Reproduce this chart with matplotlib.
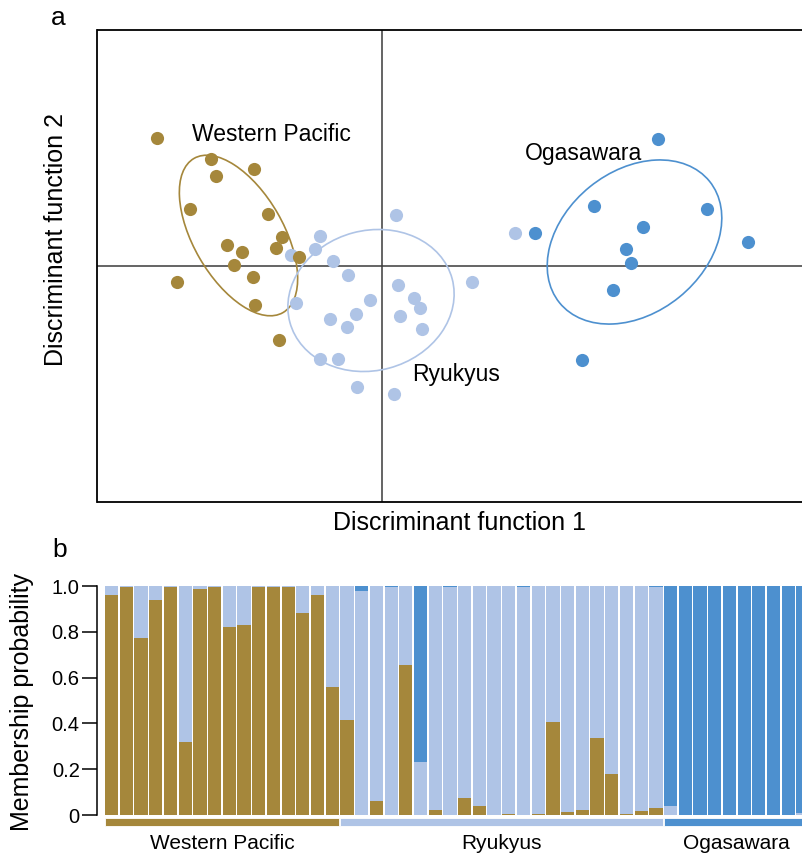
import matplotlib
matplotlib.use('Agg')
import matplotlib.pyplot as plt
from matplotlib.patches import Ellipse, Rectangle
import numpy as np

plt.rcParams['font.family'] = ['Liberation Sans', 'DejaVu Sans']

BROWN = '#a5873b'
LIGHT = '#afc4e6'
DARK = '#4d90cf'

# panel a: discriminant scores (function 1, function 2)
wp_ld1 = [-4.51, -3.41, -2.57, -3.33, -3.84, -2.29, -2.00, -3.10, -2.79, -2.13, -1.66, -2.95, -4.10, -2.59, -2.55, -2.06]
wp_ld2 = [2.55, 2.13, 1.94, 1.80, 1.14, 1.03, 0.58, 0.42, 0.27, 0.35, 0.17, 0.02, -0.33, -0.22, -0.79, -1.49]

ryu_ld1 = [0.28, -1.23, -1.33, -1.83, -0.97, -0.67, 0.33, 1.81, -0.24, 0.64, 0.76, -1.72, -0.51, -1.04, 0.36,
           -0.69, 0.81, -1.23, -0.87, -0.49, 0.25, 2.66]
ryu_ld2 = [1.02, 0.59, 0.33, 0.22, 0.10, -0.18, -0.39, -0.33, -0.68, -0.65, -0.84, -0.74, -0.97, -1.07, -1.00,
           -1.23, -1.27, -1.86, -1.87, -2.43, -2.56, 0.65]

oga_ld1 = [5.53, 4.24, 6.51, 5.23, 3.07, 7.33, 4.88, 4.99, 4.63, 4.01]
oga_ld2 = [2.53, 1.20, 1.14, 0.77, 0.65, 0.48, 0.33, 0.05, -0.49, -1.89]

# 95% ellipses: centre x, centre y, width, height, angle
wp_ell = (-2.87, 0.61, 3.56, 1.80, -60)
ryu_ell = (-0.22, -0.69, 3.36, 2.80, 15)
oga_ell = (5.05, 0.48, 3.86, 2.84, 39)

# panel b: membership probabilities per individual
groups = ['Western Pacific', 'Ryukyus', 'Ogasawara']
group_sizes = [16, 22, 10]
p_wp = [0.96, 0.995, 0.775, 0.94, 0.995, 0.32, 0.985, 0.995, 0.82, 0.83, 0.995, 0.995, 0.995, 0.88, 0.96, 0.56,
        0.415, 0, 0.063, 0, 0.655, 0, 0.022, 0, 0.074, 0.039, 0, 0.004, 0, 0.004, 0.406, 0.013, 0.022, 0.336,
        0.179, 0.004, 0.017, 0.03,
        0, 0, 0, 0, 0, 0, 0, 0, 0, 0]
p_oga = [0] * 16 + \
        [0, 0.022, 0, 0.005, 0, 0.767, 0, 0.005, 0, 0, 0, 0, 0.005, 0, 0, 0, 0, 0, 0, 0, 0, 0.005] + \
        [0.96, 1.0, 1.0, 1.0, 1.0, 1.0, 1.0, 1.0, 1.0, 0.99]

W, H = 803, 855
fig = plt.figure(figsize=(W / 100, H / 100), dpi=100)

# ---- panel a
ax1 = fig.add_axes([97.5 / W, (H - 502) / H, (805 - 97.5) / W, 472 / H])
ax1.set_xlim(-5.69, 8.46)
ax1.set_ylim(-4.72, 4.72)
ax1.set_xticks([])
ax1.set_yticks([])
for s in ax1.spines.values():
    s.set_linewidth(1.3)
ax1.axhline(0, color='#3a3a3a', lw=1.1, zorder=1)
ax1.axvline(0, color='#3a3a3a', lw=1.1, zorder=1)

for (cx, cy, ew, eh, ang), col in [(wp_ell, BROWN), (ryu_ell, LIGHT), (oga_ell, DARK)]:
    ax1.add_patch(Ellipse((cx, cy), ew, eh, angle=ang, fill=False, edgecolor=col, lw=1.2, zorder=2))

ax1.scatter(ryu_ld1, ryu_ld2, s=90, color=LIGHT, linewidths=0, zorder=3)
ax1.scatter(wp_ld1, wp_ld2, s=90, color=BROWN, linewidths=0, zorder=4)
ax1.scatter(oga_ld1, oga_ld2, s=90, color=DARK, linewidths=0, zorder=4)

ax1.text(-2.21, 2.50, 'Western Pacific', fontsize=16.5, ha='center', va='baseline')
ax1.text(4.04, 2.12, 'Ogasawara', fontsize=16.5, ha='center', va='baseline')
ax1.text(1.49, -2.31, 'Ryukyus', fontsize=16.5, ha='center', va='baseline')

fig.text(460 / W, 1 - 523 / H, 'Discriminant function 1', fontsize=18, ha='center', va='center')
fig.text(56 / W, 1 - 240 / H, 'Discriminant function 2', fontsize=18, ha='center', va='center', rotation=90)
fig.text(58 / W, 1 - 18 / H, 'a', fontsize=19, ha='center', va='center')

# ---- panel b
ax2 = fig.add_axes([97 / W, (H - 826.5) / H, (803 - 97) / W, 240.5 / H])
n = len(p_wp)
x = np.arange(n)
brown = np.array(p_wp)
dark = np.array(p_oga)
light = 1 - brown - dark
ax2.bar(x, brown, width=0.9, color=BROWN, linewidth=0)
ax2.bar(x, light, bottom=brown, width=0.9, color=LIGHT, linewidth=0)
ax2.bar(x, dark, bottom=brown + light, width=0.9, color=DARK, linewidth=0)
ax2.set_xlim(-0.996, 47.0)
ax2.set_ylim(-0.05, 1.0)

start = 0
for name, size, col in zip(groups, group_sizes, [BROWN, LIGHT, DARK]):
    ax2.add_patch(Rectangle((start - 0.45, -0.046), size - 0.1, 0.031, facecolor=col,
                            edgecolor='white', lw=0.6, clip_on=False))
    ax2.text(start + (size - 1) / 2, -0.148, name, fontsize=15, ha='center', va='baseline')
    start += size

for side in ['top', 'right', 'bottom']:
    ax2.spines[side].set_visible(False)
ax2.spines['left'].set_bounds(0, 1)
ax2.spines['left'].set_linewidth(1.1)
ax2.set_xticks([])
ax2.set_yticks([0, 0.2, 0.4, 0.6, 0.8, 1.0])
ax2.set_yticklabels(['0', '0.2', '0.4', '0.6', '0.8', '1.0'])
ax2.tick_params(axis='y', length=10.5, width=1.1, pad=2, labelsize=14.5)

fig.text(22 / W, 1 - 702 / H, 'Membership probability', fontsize=18, ha='center', va='center', rotation=90)
fig.text(60 / W, 1 - 550 / H, 'b', fontsize=19, ha='center', va='center')

fig.savefig('out.png', dpi=100)
